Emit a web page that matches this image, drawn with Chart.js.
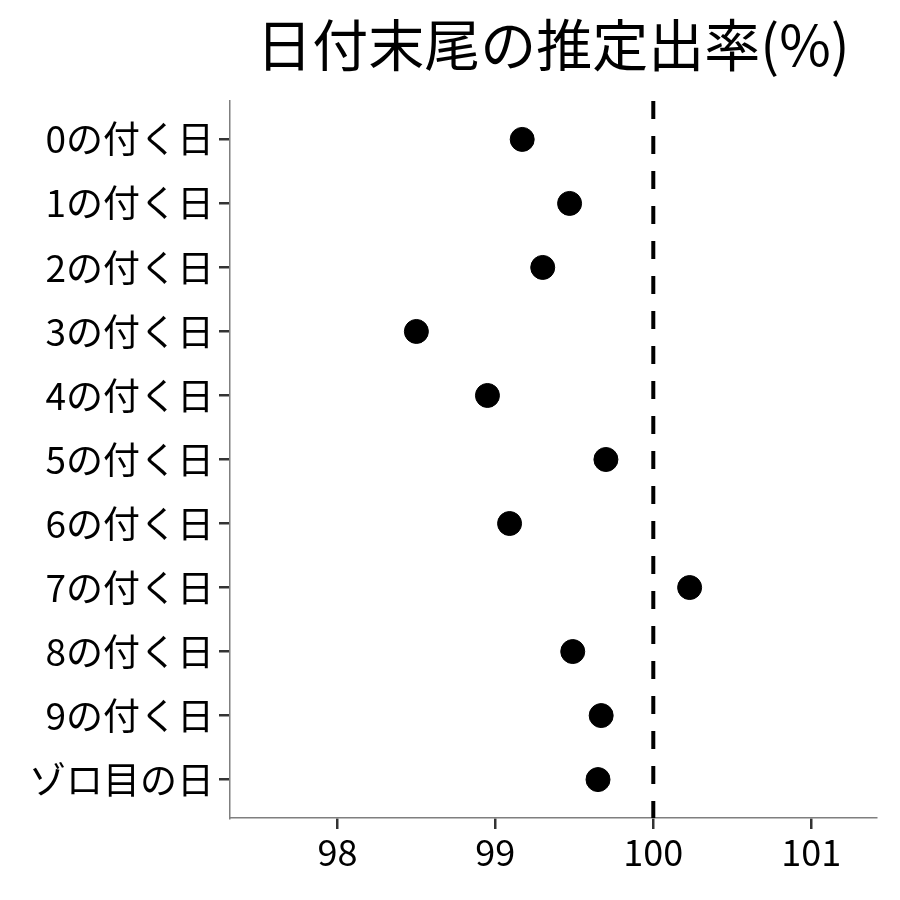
<!DOCTYPE html>
<html>
<head>
<meta charset="utf-8">
<script src="https://cdn.jsdelivr.net/npm/chart.js@4/dist/chart.umd.min.js"></script>
<style>
  html, body { margin: 0; padding: 0; background: #fff; }
  #wrap { width: 900px; height: 900px; }
</style>
</head>
<body>
<div id="wrap"><canvas id="chart" width="900" height="900"></canvas></div>
<script>
// ---- data ----
const categories = ['0の付く日', '1の付く日', '2の付く日', '3の付く日', '4の付く日',
                    '5の付く日', '6の付く日', '7の付く日', '8の付く日', '9の付く日', 'ゾロ目の日'];
const rates = [99.17, 99.47, 99.30, 98.50, 98.95, 99.70, 99.09, 100.23, 99.49, 99.67, 99.65];
const xTicks = [98, 99, 100, 101];
const refValue = 100;
const titleText = '日付末尾の推定出率(%)';

const FONT = '"Noto Sans CJK JP", "Noto Sans", sans-serif';

// title centred over the plot area, like ggplot
const titlePlugin = {
    id: 'plotTitle',
    afterDraw(chart) {
        const c = chart.ctx, a = chart.chartArea;
        c.save();
        c.font = '56px ' + FONT;
        c.fillStyle = '#000';
        c.textAlign = 'center';
        c.textBaseline = 'middle';
        c.fillText(titleText, (a.left + a.right) / 2, 45);
        c.restore();
    }
};

const points = rates.map((v, i) => ({ x: v, y: i }));

new Chart(document.getElementById('chart'), {
    type: 'scatter',
    data: {
        datasets: [{
            type: 'line',
            data: [{ x: refValue, y: -0.6 }, { x: refValue, y: categories.length - 0.4 }],
            borderColor: '#000',
            borderWidth: 4,
            borderDash: [18, 17],
            pointRadius: 0,
            fill: false
        }, {
            data: points,
            backgroundColor: '#000',
            borderColor: '#000',
            pointRadius: 12,
            pointHoverRadius: 12
        }]
    },
    options: {
        responsive: false,
        animation: false,
        layout: { padding: { top: 101, right: 24, left: 0, bottom: 0 } },
        plugins: { legend: { display: false }, tooltip: { enabled: false } },
        scales: {
            x: {
                type: 'linear',
                min: 97.32,
                max: 101.41,
                afterBuildTicks: s => { s.ticks = xTicks.map(v => ({ value: v })); },
                afterFit: s => { s.height = 82; },
                grid: { drawOnChartArea: false, color: '#333', lineWidth: 2.5, tickLength: 11 },
                border: { color: '#7f7f7f', width: 1.5 },
                ticks: { color: '#000', font: { family: FONT, size: 36 }, padding: 2, maxRotation: 0 }
            },
            y: {
                type: 'linear',
                reverse: true,
                min: -0.6,
                max: categories.length - 0.4,
                afterBuildTicks: s => { s.ticks = categories.map((_, i) => ({ value: i })); },
                afterFit: s => { s.width = 230; },
                grid: { drawOnChartArea: false, color: '#333', lineWidth: 2.5, tickLength: 11 },
                border: { color: '#7f7f7f', width: 1.5 },
                ticks: {
                    color: '#000',
                    font: { family: FONT, size: 37 },
                    padding: 5,
                    callback: v => categories[v]
                }
            }
        }
    },
    plugins: [titlePlugin]
});
</script>
</body>
</html>
